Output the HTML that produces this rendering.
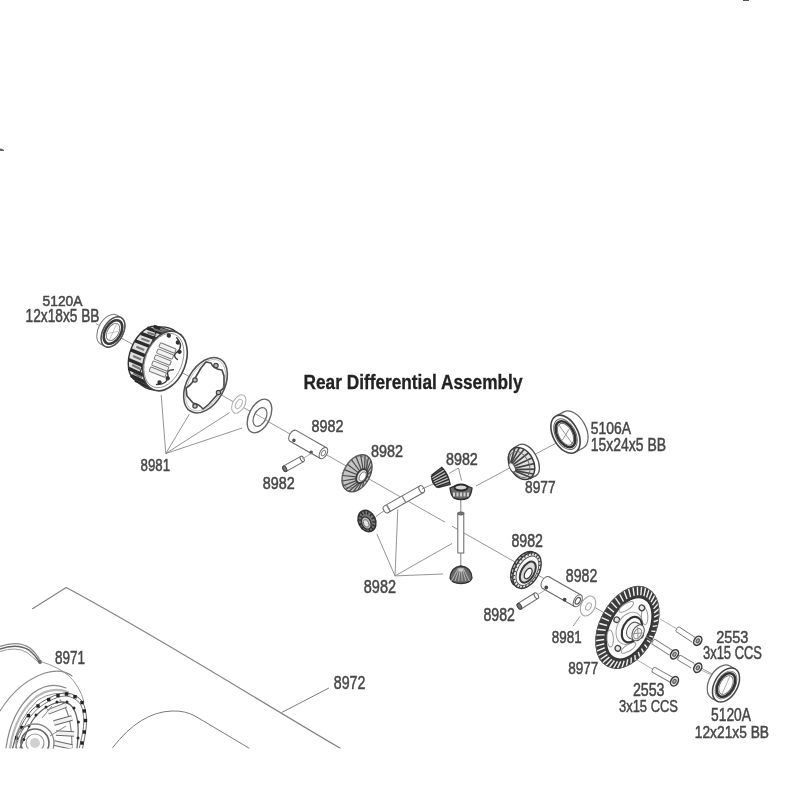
<!DOCTYPE html>
<html><head><meta charset="utf-8"><style>
html,body{margin:0;padding:0;background:#fff;}
svg{display:block;will-change:transform;font-family:"Liberation Sans",sans-serif;}
</style></head><body>
<svg width="800" height="800" viewBox="0 0 800 800">
<rect width="800" height="800" fill="#fff"/>
<line x1="96.0" y1="323.6" x2="445.0" y2="522.2" stroke="#8a8a8a" stroke-width="0.9" />
<line x1="452.0" y1="526.2" x2="712.0" y2="674.1" stroke="#8a8a8a" stroke-width="0.9" />
<line x1="476.0" y1="486.0" x2="560.0" y2="441.0" stroke="#8a8a8a" stroke-width="0.9" />
<g transform="translate(113.0 332.0) rotate(29.6)">
<ellipse cx="-5.0" cy="0.0" rx="10.0" ry="16.5" stroke="#777" stroke-width="1.0" fill="#fff"/>
<rect x="-5.0" y="-16.5" width="5.0" height="33.0" fill="#fff"/>
<line x1="-5.0" y1="-16.5" x2="0.0" y2="-16.5" stroke="#777" stroke-width="1.0"/>
<line x1="-5.0" y1="16.5" x2="0.0" y2="16.5" stroke="#777" stroke-width="1.0"/>
<ellipse cx="0.0" cy="0.0" rx="10.0" ry="16.5" stroke="#777" stroke-width="1.0" fill="#fff"/>
<ellipse cx="0.0" cy="0.0" rx="10.0" ry="16.5" stroke="#555" stroke-width="1.4" fill="none"/>
<ellipse cx="0.0" cy="0.0" rx="7.8" ry="12.8" stroke="#3a3a3a" stroke-width="2.6" fill="none"/>
<ellipse cx="0.0" cy="0.0" rx="5.6" ry="9.4" stroke="#777" stroke-width="0.9" fill="#fff"/>
<path d="M -1,-9 L 1,9 M -4,4 L 4,-3" stroke="#aaa" stroke-width="0.6"/>
</g>
<g transform="translate(165.0 361.0) rotate(22.0)">
<ellipse cx="-19.0" cy="0.0" rx="17.0" ry="29.0" stroke="#333" stroke-width="1.4" fill="#e0e0e0"/>
<path d="M -19,-29 Q -8,-34 0,-31 L 0,31 Q -8,34 -19,29 Z" fill="#e0e0e0" stroke="#333" stroke-width="1.3"/>
<line x1="-20.5" y1="28.9" x2="-1.7" y2="29.9" stroke="#2a2a2a" stroke-width="3.4"/>
<line x1="-19.4" y1="27.2" x2="-9.0" y2="28.1" stroke="#777" stroke-width="2.2"/>
<line x1="-26.2" y1="26.3" x2="-8.2" y2="27.2" stroke="#2a2a2a" stroke-width="3.4"/>
<line x1="-24.8" y1="23.0" x2="-15.2" y2="23.8" stroke="#777" stroke-width="2.2"/>
<line x1="-31.0" y1="20.5" x2="-13.8" y2="21.2" stroke="#2a2a2a" stroke-width="3.4"/>
<line x1="-28.9" y1="16.1" x2="-20.0" y2="16.7" stroke="#777" stroke-width="2.2"/>
<line x1="-34.4" y1="12.3" x2="-17.7" y2="12.7" stroke="#2a2a2a" stroke-width="3.4"/>
<line x1="-31.4" y1="7.3" x2="-22.8" y2="7.5" stroke="#777" stroke-width="2.2"/>
<line x1="-35.9" y1="2.5" x2="-19.4" y2="2.6" stroke="#2a2a2a" stroke-width="3.4"/>
<line x1="-31.9" y1="-2.5" x2="-23.4" y2="-2.5" stroke="#777" stroke-width="2.2"/>
<line x1="-35.4" y1="-7.5" x2="-18.8" y2="-7.8" stroke="#2a2a2a" stroke-width="3.4"/>
<line x1="-30.4" y1="-11.9" x2="-21.7" y2="-12.3" stroke="#777" stroke-width="2.2"/>
<line x1="-32.9" y1="-16.6" x2="-16.0" y2="-17.2" stroke="#2a2a2a" stroke-width="3.4"/>
<line x1="-27.0" y1="-19.9" x2="-17.8" y2="-20.6" stroke="#777" stroke-width="2.2"/>
<line x1="-28.8" y1="-23.8" x2="-11.2" y2="-24.6" stroke="#2a2a2a" stroke-width="3.4"/>
<line x1="-22.2" y1="-25.5" x2="-12.2" y2="-26.4" stroke="#777" stroke-width="2.2"/>
<line x1="-23.4" y1="-28.0" x2="-5.0" y2="-29.0" stroke="#2a2a2a" stroke-width="3.4"/>
<line x1="-16.5" y1="-28.0" x2="-5.7" y2="-29.0" stroke="#777" stroke-width="2.2"/>
<ellipse cx="0.0" cy="0.0" rx="20.5" ry="31.0" stroke="#444" stroke-width="1.6" fill="#fff"/>
<ellipse cx="-1.2" cy="0.0" rx="18.3" ry="28.4" stroke="#888" stroke-width="0.8" fill="none"/>
<rect x="-11" y="-15.3" width="17" height="4.6" rx="1" fill="#f2f2f2" stroke="#7a7a7a" stroke-width="1.0"/>
<rect x="-11" y="-8.8" width="17" height="4.6" rx="1" fill="#f2f2f2" stroke="#7a7a7a" stroke-width="1.0"/>
<rect x="-11" y="-2.3" width="17" height="4.6" rx="1" fill="#f2f2f2" stroke="#7a7a7a" stroke-width="1.0"/>
<rect x="-11" y="4.2" width="17" height="4.6" rx="1" fill="#f2f2f2" stroke="#7a7a7a" stroke-width="1.0"/>
<rect x="-11" y="10.7" width="17" height="4.6" rx="1" fill="#f2f2f2" stroke="#7a7a7a" stroke-width="1.0"/>
<circle cx="5" cy="-22" r="2.2" fill="#333"/>
<circle cx="10" cy="-14" r="2.2" fill="#333"/>
<circle cx="3" cy="22" r="2.2" fill="#333"/>
<circle cx="9" cy="15" r="2.2" fill="#333"/>
<circle cx="-6" cy="-25" r="2.2" fill="#333"/>
<path d="M 2,-26 Q 12,-21 8,-13 Q 4,-8 11,-6" stroke="#3a3a3a" stroke-width="1.4" fill="none" stroke-linejoin="round" stroke-linecap="round" />
<path d="M 1,25 Q 12,20 8,12 Q 4,8 11,5" stroke="#3a3a3a" stroke-width="1.4" fill="none" stroke-linejoin="round" stroke-linecap="round" />
</g>
<ellipse cx="205.5" cy="385.2" rx="18.5" ry="30.0" transform="rotate(29.5 205.5 385.2)" stroke="#555" stroke-width="1.6" fill="#fff"/>
<ellipse cx="205.5" cy="385.2" rx="16.6" ry="28.0" transform="rotate(29.5 205.5 385.2)" stroke="#aaa" stroke-width="0.7" fill="none"/>
<path d="M 211,363 Q 213,369 222,370 L 224,376 L 224,388 Q 220,390 217,395 L 209,404 L 203,409 Q 199,404 193,403 L 187,396 L 186,388 Q 190,386 194,380 L 201,368 L 206,362 Z" stroke="#4a4a4a" stroke-width="1.6" fill="none" stroke-linejoin="round" stroke-linecap="round" />
<circle cx="216" cy="365.5" r="2.2" fill="#bbb" stroke="#444" stroke-width="1.2"/>
<circle cx="218.5" cy="392.5" r="2.2" fill="#bbb" stroke="#444" stroke-width="1.2"/>
<circle cx="195" cy="406" r="2.2" fill="#bbb" stroke="#444" stroke-width="1.2"/>
<circle cx="195" cy="380" r="2.2" fill="#bbb" stroke="#444" stroke-width="1.2"/>
<ellipse cx="238.8" cy="404.0" rx="6.0" ry="10.0" transform="rotate(29.6 238.8 404.0)" stroke="#b0b0b0" stroke-width="1.1" fill="#fff"/>
<ellipse cx="238.8" cy="404.0" rx="2.8" ry="5.0" transform="rotate(29.6 238.8 404.0)" stroke="#b0b0b0" stroke-width="1.0" fill="none"/>
<ellipse cx="259.5" cy="416.0" rx="10.5" ry="18.0" transform="rotate(26.0 259.5 416.0)" stroke="#666" stroke-width="1.4" fill="#fff"/>
<ellipse cx="260.0" cy="417.0" rx="6.0" ry="10.0" transform="rotate(26.0 260.0 417.0)" stroke="#666" stroke-width="1.2" fill="#fff"/>
<line x1="254.0" y1="413.0" x2="268.0" y2="421.0" stroke="#888" stroke-width="0.8" />
<g transform="translate(293.0 435.8) rotate(29.6)">
<ellipse cx="0.0" cy="0.0" rx="3.5" ry="6.2" stroke="#666" stroke-width="1.0" fill="#fff"/>
<rect x="0.0" y="-6.2" width="35.0" height="12.4" fill="#fff"/>
<line x1="0.0" y1="-6.2" x2="35.0" y2="-6.2" stroke="#666" stroke-width="1.0"/>
<line x1="0.0" y1="6.2" x2="35.0" y2="6.2" stroke="#666" stroke-width="1.0"/>
<ellipse cx="35.0" cy="0.0" rx="3.5" ry="6.2" stroke="#666" stroke-width="1.0" fill="#fff"/>
<ellipse cx="35.0" cy="0.0" rx="1.8" ry="3.0" stroke="#777" stroke-width="0.9" fill="none"/>
<circle cx="3" cy="3.5" r="1.8" fill="#555"/>
<circle cx="24" cy="5.4" r="1.8" fill="#555"/>
</g>
<g transform="translate(284.8 468.8) rotate(-29.5)">
<ellipse cx="0.0" cy="0.0" rx="1.7" ry="3.0" stroke="#666" stroke-width="1.0" fill="#fff"/>
<rect x="0.0" y="-3.0" width="20.0" height="6.0" fill="#fff"/>
<line x1="0.0" y1="-3.0" x2="20.0" y2="-3.0" stroke="#666" stroke-width="1.0"/>
<line x1="0.0" y1="3.0" x2="20.0" y2="3.0" stroke="#666" stroke-width="1.0"/>
<ellipse cx="20.0" cy="0.0" rx="1.7" ry="3.0" stroke="#666" stroke-width="1.0" fill="#fff"/>
<ellipse cx="0.0" cy="0.0" rx="1.7" ry="3.0" stroke="#444" stroke-width="1.0" fill="#777"/>
</g>
<line x1="302.0" y1="459.0" x2="313.0" y2="452.5" stroke="#999" stroke-width="0.8" />
<g transform="translate(357.0 473.3) rotate(29.6)">
<ellipse cx="0.0" cy="0.0" rx="13.0" ry="20.0" stroke="#555" stroke-width="1.4" fill="#c4c4c4"/>
<ellipse cx="-2.5" cy="0.0" rx="10.5" ry="17.5" stroke="#777" stroke-width="0.8" fill="none"/>
<line x1="9.9" y1="1.1" x2="12.8" y2="3.1" stroke="#4a4a4a" stroke-width="1.2"/>
<line x1="9.5" y1="3.2" x2="11.6" y2="9.1" stroke="#4a4a4a" stroke-width="1.2"/>
<line x1="8.7" y1="4.9" x2="9.2" y2="14.1" stroke="#4a4a4a" stroke-width="1.2"/>
<line x1="7.5" y1="6.2" x2="5.9" y2="17.8" stroke="#4a4a4a" stroke-width="1.2"/>
<line x1="6.2" y1="6.9" x2="2.0" y2="19.8" stroke="#4a4a4a" stroke-width="1.2"/>
<line x1="4.8" y1="6.9" x2="-2.0" y2="19.8" stroke="#4a4a4a" stroke-width="1.2"/>
<line x1="3.5" y1="6.2" x2="-5.9" y2="17.8" stroke="#4a4a4a" stroke-width="1.2"/>
<line x1="2.3" y1="4.9" x2="-9.2" y2="14.1" stroke="#4a4a4a" stroke-width="1.2"/>
<line x1="1.5" y1="3.2" x2="-11.6" y2="9.1" stroke="#4a4a4a" stroke-width="1.2"/>
<line x1="1.1" y1="1.1" x2="-12.8" y2="3.1" stroke="#4a4a4a" stroke-width="1.2"/>
<line x1="1.1" y1="-1.1" x2="-12.8" y2="-3.1" stroke="#4a4a4a" stroke-width="1.2"/>
<line x1="1.5" y1="-3.2" x2="-11.6" y2="-9.1" stroke="#4a4a4a" stroke-width="1.2"/>
<line x1="2.3" y1="-4.9" x2="-9.2" y2="-14.1" stroke="#4a4a4a" stroke-width="1.2"/>
<line x1="3.5" y1="-6.2" x2="-5.9" y2="-17.8" stroke="#4a4a4a" stroke-width="1.2"/>
<line x1="4.8" y1="-6.9" x2="-2.0" y2="-19.8" stroke="#4a4a4a" stroke-width="1.2"/>
<line x1="6.2" y1="-6.9" x2="2.0" y2="-19.8" stroke="#4a4a4a" stroke-width="1.2"/>
<line x1="7.5" y1="-6.2" x2="5.9" y2="-17.8" stroke="#4a4a4a" stroke-width="1.2"/>
<line x1="8.7" y1="-4.9" x2="9.2" y2="-14.1" stroke="#4a4a4a" stroke-width="1.2"/>
<line x1="9.5" y1="-3.2" x2="11.6" y2="-9.1" stroke="#4a4a4a" stroke-width="1.2"/>
<line x1="9.9" y1="-1.1" x2="12.8" y2="-3.1" stroke="#4a4a4a" stroke-width="1.2"/>
<ellipse cx="5.5" cy="0.0" rx="4.8" ry="7.5" stroke="#3a3a3a" stroke-width="1.8" fill="#e8e8e8"/>
<ellipse cx="6.5" cy="0.0" rx="3.0" ry="5.0" stroke="#666" stroke-width="0.8" fill="#fff"/>
</g>
<line x1="376.0" y1="516.4" x2="386.0" y2="509.4" stroke="#777" stroke-width="0.8" />
<g transform="translate(386.0 509.4) rotate(-29.5)">
<ellipse cx="0.0" cy="0.0" rx="2.4" ry="3.8" stroke="#666" stroke-width="1.0" fill="#fff"/>
<rect x="0.0" y="-3.8" width="41.0" height="7.6" fill="#fff"/>
<line x1="0.0" y1="-3.8" x2="41.0" y2="-3.8" stroke="#666" stroke-width="1.0"/>
<line x1="0.0" y1="3.8" x2="41.0" y2="3.8" stroke="#666" stroke-width="1.0"/>
<ellipse cx="41.0" cy="0.0" rx="2.4" ry="3.8" stroke="#666" stroke-width="1.0" fill="#fff"/>
<rect x="2" y="-3.4" width="1.5" height="6.8" fill="#777"/>
<rect x="20" y="-3.4" width="1.2" height="6.8" fill="#777"/>
</g>
<line x1="422.0" y1="489.0" x2="433.0" y2="484.0" stroke="#777" stroke-width="0.8" />
<line x1="460.8" y1="499.0" x2="460.8" y2="513.0" stroke="#777" stroke-width="0.9" />
<rect x="457.8" y="513" width="6" height="40" fill="#fff" stroke="#666" stroke-width="1"/>
<ellipse cx="460.8" cy="513.5" rx="3" ry="1.6" fill="#777" stroke="#555" stroke-width="0.8"/>
<line x1="460.8" y1="553.0" x2="460.8" y2="567.0" stroke="#777" stroke-width="0.9" />
<g transform="translate(367.0 521.0) rotate(-25.0)">
<ellipse cx="0.0" cy="0.0" rx="8.5" ry="11.0" stroke="#333" stroke-width="1.5" fill="#777"/>
<line x1="5.0" y1="0.0" x2="8.5" y2="0.0" stroke="#2a2a2a" stroke-width="1.3"/>
<line x1="4.5" y1="3.0" x2="7.7" y2="4.8" stroke="#2a2a2a" stroke-width="1.3"/>
<line x1="3.1" y1="5.5" x2="5.3" y2="8.6" stroke="#2a2a2a" stroke-width="1.3"/>
<line x1="1.1" y1="6.8" x2="1.9" y2="10.7" stroke="#2a2a2a" stroke-width="1.3"/>
<line x1="-1.1" y1="6.8" x2="-1.9" y2="10.7" stroke="#2a2a2a" stroke-width="1.3"/>
<line x1="-3.1" y1="5.5" x2="-5.3" y2="8.6" stroke="#2a2a2a" stroke-width="1.3"/>
<line x1="-4.5" y1="3.0" x2="-7.7" y2="4.8" stroke="#2a2a2a" stroke-width="1.3"/>
<line x1="-5.0" y1="0.0" x2="-8.5" y2="0.0" stroke="#2a2a2a" stroke-width="1.3"/>
<line x1="-4.5" y1="-3.0" x2="-7.7" y2="-4.8" stroke="#2a2a2a" stroke-width="1.3"/>
<line x1="-3.1" y1="-5.5" x2="-5.3" y2="-8.6" stroke="#2a2a2a" stroke-width="1.3"/>
<line x1="-1.1" y1="-6.8" x2="-1.9" y2="-10.7" stroke="#2a2a2a" stroke-width="1.3"/>
<line x1="1.1" y1="-6.8" x2="1.9" y2="-10.7" stroke="#2a2a2a" stroke-width="1.3"/>
<line x1="3.1" y1="-5.5" x2="5.3" y2="-8.6" stroke="#2a2a2a" stroke-width="1.3"/>
<line x1="4.5" y1="-3.0" x2="7.7" y2="-4.8" stroke="#2a2a2a" stroke-width="1.3"/>
<ellipse cx="-1.5" cy="1.5" rx="4.5" ry="6.5" stroke="#333" stroke-width="1.3" fill="#bdbdbd"/>
<ellipse cx="-1.8" cy="1.8" rx="2.5" ry="4.0" stroke="#666" stroke-width="0.8" fill="#e4e4e4"/>
</g>
<g transform="translate(440.5 478.5) rotate(64.0)">
<path d="M -9.5,-6 Q 0,-9 9.5,-6 L 7,6 Q 0,11 -7,6 Z" fill="#7c7c7c" stroke="#333" stroke-width="1.4"/>
<line x1="-7.5" y1="-7" x2="-5.6" y2="8" stroke="#2a2a2a" stroke-width="1.3"/>
<line x1="-4.5" y1="-7" x2="-3.4" y2="8" stroke="#2a2a2a" stroke-width="1.3"/>
<line x1="-1.5" y1="-7" x2="-1.1" y2="8" stroke="#2a2a2a" stroke-width="1.3"/>
<line x1="1.5" y1="-7" x2="1.1" y2="8" stroke="#2a2a2a" stroke-width="1.3"/>
<line x1="4.5" y1="-7" x2="3.4" y2="8" stroke="#2a2a2a" stroke-width="1.3"/>
<line x1="7.5" y1="-7" x2="5.6" y2="8" stroke="#2a2a2a" stroke-width="1.3"/>
<line x1="-6.0" y1="-6.5" x2="-4.5" y2="7" stroke="#c8c8c8" stroke-width="0.9"/>
<line x1="-3.0" y1="-6.5" x2="-2.2" y2="7" stroke="#c8c8c8" stroke-width="0.9"/>
<line x1="0.0" y1="-6.5" x2="0.0" y2="7" stroke="#c8c8c8" stroke-width="0.9"/>
<line x1="3.0" y1="-6.5" x2="2.2" y2="7" stroke="#c8c8c8" stroke-width="0.9"/>
<line x1="6.0" y1="-6.5" x2="4.5" y2="7" stroke="#c8c8c8" stroke-width="0.9"/>
</g>
<g transform="translate(461.0 491.0) rotate(0.0)">
<path d="M -11,-3 Q -10,5 -7,7 Q 0,10 7,7 Q 10,5 11,-3 Q 0,-9 -11,-3 Z" fill="#6a6a6a" stroke="#333" stroke-width="1.4"/>
<ellipse cx="0.0" cy="-3.5" rx="6.5" ry="3.0" stroke="#2a2a2a" stroke-width="1.8" fill="#d8d8d8"/>
<rect x="-8.0" y="1.5" width="2" height="4" fill="#cfcfcf"/>
<rect x="-4.5" y="1.5" width="2" height="4" fill="#cfcfcf"/>
<rect x="-1.0" y="1.5" width="2" height="4" fill="#cfcfcf"/>
<rect x="2.5" y="1.5" width="2" height="4" fill="#cfcfcf"/>
<rect x="6.0" y="1.5" width="2" height="4" fill="#cfcfcf"/>
</g>
<g transform="translate(461.0 575.0) rotate(0.0)">
<path d="M -11,3 Q -10,-8 0,-9 Q 10,-8 11,3 Q 9,8.5 0,8.5 Q -9,8.5 -11,3 Z" fill="#6a6a6a" stroke="#333" stroke-width="1.3"/>
<line x1="-2.4" y1="-7" x2="-9.6" y2="6" stroke="#bdbdbd" stroke-width="0.9"/>
<line x1="-1.5" y1="-7" x2="-6.0" y2="6" stroke="#bdbdbd" stroke-width="0.9"/>
<line x1="-0.6" y1="-7" x2="-2.4" y2="6" stroke="#bdbdbd" stroke-width="0.9"/>
<line x1="0.3" y1="-7" x2="1.2" y2="6" stroke="#bdbdbd" stroke-width="0.9"/>
<line x1="1.2" y1="-7" x2="4.8" y2="6" stroke="#bdbdbd" stroke-width="0.9"/>
<line x1="2.1" y1="-7" x2="8.4" y2="6" stroke="#bdbdbd" stroke-width="0.9"/>
<ellipse cx="0.0" cy="-5.0" rx="2.5" ry="1.5" stroke="none" stroke-width="0" fill="#ccc"/>
</g>
<line x1="395.0" y1="575.9" x2="376.8" y2="533.9" stroke="#888" stroke-width="0.9" />
<line x1="395.0" y1="575.9" x2="397.8" y2="509.4" stroke="#888" stroke-width="0.9" />
<line x1="395.0" y1="575.9" x2="452.0" y2="543.5" stroke="#888" stroke-width="0.9" />
<line x1="395.0" y1="575.9" x2="443.0" y2="574.0" stroke="#888" stroke-width="0.9" />
<polyline points="449.0,473.5 458.5,468.0 461.5,480.5" stroke="#888" stroke-width="0.9" fill="none" stroke-linejoin="round"/>
<line x1="165.8" y1="453.5" x2="161.2" y2="395.0" stroke="#888" stroke-width="0.9" />
<line x1="165.8" y1="453.5" x2="189.3" y2="414.2" stroke="#888" stroke-width="0.9" />
<line x1="165.8" y1="453.5" x2="229.5" y2="412.7" stroke="#888" stroke-width="0.9" />
<line x1="165.8" y1="453.5" x2="242.2" y2="428.0" stroke="#888" stroke-width="0.9" />
<g transform="translate(565.5 434.2) rotate(-28.0)">
<ellipse cx="9.0" cy="0.0" rx="12.5" ry="20.5" stroke="#666" stroke-width="1.2" fill="#fff"/>
<rect x="0.0" y="-20.5" width="9.0" height="41.0" fill="#fff"/>
<line x1="9.0" y1="-20.5" x2="0.0" y2="-20.5" stroke="#666" stroke-width="1.2"/>
<line x1="9.0" y1="20.5" x2="0.0" y2="20.5" stroke="#666" stroke-width="1.2"/>
<ellipse cx="0.0" cy="0.0" rx="12.5" ry="20.5" stroke="#444" stroke-width="1.6" fill="#fff"/>
<ellipse cx="0.0" cy="0.0" rx="10.0" ry="16.5" stroke="#666" stroke-width="1.0" fill="none"/>
<ellipse cx="0.0" cy="0.0" rx="8.3" ry="14.0" stroke="#333" stroke-width="2.6" fill="none"/>
<ellipse cx="0.0" cy="0.0" rx="6.8" ry="11.8" stroke="#666" stroke-width="0.9" fill="#fff"/>
<path d="M -1.5,-11 L 1.5,11 M -6,4 L 6,-3" stroke="#888" stroke-width="0.8"/>
</g>
<g transform="translate(521.5 463.5) rotate(-28.0)">
<ellipse cx="7.0" cy="0.0" rx="9.5" ry="17.5" stroke="#555" stroke-width="1.3" fill="#fff"/>
<rect x="0" y="-17.5" width="7" height="35" fill="#fff"/>
<line x1="0" y1="-17.5" x2="7" y2="-17.5" stroke="#555" stroke-width="1.3"/>
<line x1="0" y1="17.5" x2="7" y2="17.5" stroke="#555" stroke-width="1.3"/>
<clipPath id="cpp"><ellipse cx="0" cy="0" rx="12" ry="17"/></clipPath>
<ellipse cx="0.0" cy="0.0" rx="12.0" ry="17.0" stroke="#3a3a3a" stroke-width="1.5" fill="#e2e2e2"/>
<g clip-path="url(#cpp)">
<line x1="-9" y1="-5.9" x2="2.3" y2="-17.7" stroke="#444" stroke-width="1.7"/>
<line x1="-9" y1="-5.3" x2="6.5" y2="-15.6" stroke="#444" stroke-width="1.7"/>
<line x1="-9" y1="-4.2" x2="10.0" y2="-11.6" stroke="#444" stroke-width="1.7"/>
<line x1="-9" y1="-2.7" x2="12.2" y2="-6.2" stroke="#444" stroke-width="1.7"/>
<line x1="-9" y1="-1.0" x2="13.0" y2="0.0" stroke="#444" stroke-width="1.7"/>
<line x1="-9" y1="0.7" x2="12.2" y2="6.2" stroke="#444" stroke-width="1.7"/>
<line x1="-9" y1="2.2" x2="10.0" y2="11.6" stroke="#444" stroke-width="1.7"/>
<line x1="-9" y1="3.3" x2="6.5" y2="15.6" stroke="#444" stroke-width="1.7"/>
<line x1="-9" y1="3.9" x2="2.3" y2="17.7" stroke="#444" stroke-width="1.7"/>
</g>
<ellipse cx="-2.0" cy="0.0" rx="9.0" ry="14.0" stroke="#666" stroke-width="0.9" fill="none"/>
<ellipse cx="-10.0" cy="-1.0" rx="2.5" ry="5.0" stroke="#555" stroke-width="1.0" fill="#f4f4f4"/>
</g>
<g transform="translate(527.0 570.5) rotate(29.6)">
<ellipse cx="-3.0" cy="0.0" rx="11.5" ry="19.0" stroke="#3a3a3a" stroke-width="1.3" fill="#c8c8c8"/>
<rect x="-3" y="-19" width="3" height="38" fill="#c8c8c8"/>
<line x1="-3.0" y1="19.0" x2="0.0" y2="19.5" stroke="#333" stroke-width="1.4"/>
<line x1="-6.0" y1="18.4" x2="-3.1" y2="18.8" stroke="#333" stroke-width="1.4"/>
<line x1="-8.7" y1="16.5" x2="-6.0" y2="16.9" stroke="#333" stroke-width="1.4"/>
<line x1="-11.1" y1="13.4" x2="-8.5" y2="13.8" stroke="#333" stroke-width="1.4"/>
<line x1="-13.0" y1="9.5" x2="-10.4" y2="9.7" stroke="#333" stroke-width="1.4"/>
<line x1="-14.1" y1="4.9" x2="-11.6" y2="5.0" stroke="#333" stroke-width="1.4"/>
<line x1="-14.5" y1="0.0" x2="-12.0" y2="0.0" stroke="#333" stroke-width="1.4"/>
<line x1="-14.1" y1="-4.9" x2="-11.6" y2="-5.0" stroke="#333" stroke-width="1.4"/>
<line x1="-13.0" y1="-9.5" x2="-10.4" y2="-9.7" stroke="#333" stroke-width="1.4"/>
<line x1="-11.1" y1="-13.4" x2="-8.5" y2="-13.8" stroke="#333" stroke-width="1.4"/>
<line x1="-8.8" y1="-16.5" x2="-6.0" y2="-16.9" stroke="#333" stroke-width="1.4"/>
<line x1="-6.0" y1="-18.4" x2="-3.1" y2="-18.8" stroke="#333" stroke-width="1.4"/>
<line x1="-3.0" y1="-19.0" x2="-0.0" y2="-19.5" stroke="#333" stroke-width="1.4"/>
<ellipse cx="0.0" cy="0.0" rx="12.0" ry="19.5" stroke="#3a3a3a" stroke-width="1.4" fill="#eeeeee"/>
<line x1="9.9" y1="2.2" x2="11.9" y2="2.5" stroke="#444" stroke-width="1.2"/>
<line x1="9.2" y1="6.3" x2="11.1" y2="7.5" stroke="#444" stroke-width="1.2"/>
<line x1="7.9" y1="10.0" x2="9.5" y2="11.9" stroke="#444" stroke-width="1.2"/>
<line x1="6.1" y1="13.1" x2="7.3" y2="15.5" stroke="#444" stroke-width="1.2"/>
<line x1="3.8" y1="15.2" x2="4.6" y2="18.0" stroke="#444" stroke-width="1.2"/>
<line x1="1.3" y1="16.4" x2="1.6" y2="19.3" stroke="#444" stroke-width="1.2"/>
<line x1="-1.3" y1="16.4" x2="-1.6" y2="19.3" stroke="#444" stroke-width="1.2"/>
<line x1="-3.8" y1="15.2" x2="-4.6" y2="18.0" stroke="#444" stroke-width="1.2"/>
<line x1="-6.1" y1="13.1" x2="-7.3" y2="15.5" stroke="#444" stroke-width="1.2"/>
<line x1="-7.9" y1="10.0" x2="-9.5" y2="11.9" stroke="#444" stroke-width="1.2"/>
<line x1="-9.2" y1="6.3" x2="-11.1" y2="7.5" stroke="#444" stroke-width="1.2"/>
<line x1="-9.9" y1="2.2" x2="-11.9" y2="2.5" stroke="#444" stroke-width="1.2"/>
<line x1="-9.9" y1="-2.2" x2="-11.9" y2="-2.5" stroke="#444" stroke-width="1.2"/>
<line x1="-9.2" y1="-6.3" x2="-11.1" y2="-7.5" stroke="#444" stroke-width="1.2"/>
<line x1="-7.9" y1="-10.0" x2="-9.5" y2="-11.9" stroke="#444" stroke-width="1.2"/>
<line x1="-6.1" y1="-13.1" x2="-7.3" y2="-15.5" stroke="#444" stroke-width="1.2"/>
<line x1="-3.8" y1="-15.2" x2="-4.6" y2="-18.0" stroke="#444" stroke-width="1.2"/>
<line x1="-1.3" y1="-16.4" x2="-1.6" y2="-19.3" stroke="#444" stroke-width="1.2"/>
<line x1="1.3" y1="-16.4" x2="1.6" y2="-19.3" stroke="#444" stroke-width="1.2"/>
<line x1="3.8" y1="-15.2" x2="4.6" y2="-18.0" stroke="#444" stroke-width="1.2"/>
<line x1="6.1" y1="-13.1" x2="7.3" y2="-15.5" stroke="#444" stroke-width="1.2"/>
<line x1="7.9" y1="-10.0" x2="9.5" y2="-11.9" stroke="#444" stroke-width="1.2"/>
<line x1="9.2" y1="-6.3" x2="11.1" y2="-7.5" stroke="#444" stroke-width="1.2"/>
<line x1="9.9" y1="-2.2" x2="11.9" y2="-2.5" stroke="#444" stroke-width="1.2"/>
<ellipse cx="0.5" cy="0.0" rx="9.5" ry="16.0" stroke="#555" stroke-width="1.0" fill="#fafafa"/>
<ellipse cx="1.5" cy="1.0" rx="6.5" ry="11.5" stroke="#3a3a3a" stroke-width="2.0" fill="#dcdcdc"/>
<ellipse cx="2.5" cy="2.0" rx="3.2" ry="5.8" stroke="#333" stroke-width="1.2" fill="#fff"/>
</g>
<g transform="translate(545.6 582.5) rotate(29.6)">
<ellipse cx="0.0" cy="0.0" rx="3.8" ry="6.6" stroke="#666" stroke-width="1.0" fill="#fff"/>
<rect x="0.0" y="-6.6" width="37.0" height="13.2" fill="#fff"/>
<line x1="0.0" y1="-6.6" x2="37.0" y2="-6.6" stroke="#666" stroke-width="1.0"/>
<line x1="0.0" y1="6.6" x2="37.0" y2="6.6" stroke="#666" stroke-width="1.0"/>
<ellipse cx="37.0" cy="0.0" rx="3.8" ry="6.6" stroke="#666" stroke-width="1.0" fill="#fff"/>
<ellipse cx="37.0" cy="0.0" rx="2.2" ry="3.6" stroke="#555" stroke-width="1.2" fill="none"/>
<circle cx="3" cy="4" r="1.9" fill="#444"/>
<circle cx="25" cy="5.5" r="1.9" fill="#444"/>
</g>
<g transform="translate(519.4 606.3) rotate(-32.0)">
<ellipse cx="0.0" cy="0.0" rx="1.8" ry="3.2" stroke="#666" stroke-width="1.0" fill="#fff"/>
<rect x="0.0" y="-3.2" width="20.0" height="6.4" fill="#fff"/>
<line x1="0.0" y1="-3.2" x2="20.0" y2="-3.2" stroke="#666" stroke-width="1.0"/>
<line x1="0.0" y1="3.2" x2="20.0" y2="3.2" stroke="#666" stroke-width="1.0"/>
<ellipse cx="20.0" cy="0.0" rx="1.8" ry="3.2" stroke="#666" stroke-width="1.0" fill="#fff"/>
<ellipse cx="0.0" cy="0.0" rx="1.8" ry="3.2" stroke="#444" stroke-width="1.0" fill="#777"/>
</g>
<line x1="537.0" y1="595.0" x2="547.0" y2="589.0" stroke="#999" stroke-width="0.8" />
<ellipse cx="588.0" cy="606.0" rx="7.0" ry="10.5" transform="rotate(26.0 588.0 606.0)" stroke="#a8a8a8" stroke-width="1.1" fill="#fff"/>
<ellipse cx="588.5" cy="606.5" rx="2.5" ry="4.0" transform="rotate(26.0 588.5 606.5)" stroke="#a8a8a8" stroke-width="1.0" fill="none"/>
<line x1="573.2" y1="626.0" x2="580.0" y2="616.4" stroke="#888" stroke-width="0.9" />
<g transform="translate(627.4 627.4) rotate(27.0)">
<ellipse cx="0.0" cy="0.0" rx="27.5" ry="43.5" stroke="#333" stroke-width="1.0" fill="#3c3c3c"/>
<line x1="23.4" y1="2.5" x2="28.0" y2="3.1" stroke="#f2f2f2" stroke-width="1.4"/>
<line x1="23.0" y1="7.5" x2="27.5" y2="9.4" stroke="#f2f2f2" stroke-width="1.4"/>
<line x1="22.1" y1="12.4" x2="26.3" y2="15.4" stroke="#f2f2f2" stroke-width="1.4"/>
<line x1="20.9" y1="17.0" x2="24.7" y2="21.1" stroke="#f2f2f2" stroke-width="1.4"/>
<line x1="19.2" y1="21.3" x2="22.5" y2="26.4" stroke="#f2f2f2" stroke-width="1.4"/>
<line x1="17.2" y1="25.1" x2="19.9" y2="31.2" stroke="#f2f2f2" stroke-width="1.4"/>
<line x1="14.9" y1="28.4" x2="16.8" y2="35.3" stroke="#f2f2f2" stroke-width="1.4"/>
<line x1="12.3" y1="31.2" x2="13.5" y2="38.7" stroke="#f2f2f2" stroke-width="1.4"/>
<line x1="9.5" y1="33.3" x2="9.8" y2="41.3" stroke="#f2f2f2" stroke-width="1.4"/>
<line x1="6.6" y1="34.7" x2="6.0" y2="43.1" stroke="#f2f2f2" stroke-width="1.4"/>
<line x1="3.5" y1="35.4" x2="2.0" y2="44.0" stroke="#f2f2f2" stroke-width="1.4"/>
<line x1="0.5" y1="35.4" x2="-2.0" y2="44.0" stroke="#f2f2f2" stroke-width="1.4"/>
<line x1="-2.6" y1="34.7" x2="-6.0" y2="43.1" stroke="#f2f2f2" stroke-width="1.4"/>
<line x1="-5.5" y1="33.3" x2="-9.8" y2="41.3" stroke="#f2f2f2" stroke-width="1.4"/>
<line x1="-8.3" y1="31.2" x2="-13.5" y2="38.7" stroke="#f2f2f2" stroke-width="1.4"/>
<line x1="-10.9" y1="28.4" x2="-16.8" y2="35.3" stroke="#f2f2f2" stroke-width="1.4"/>
<line x1="-13.2" y1="25.1" x2="-19.9" y2="31.2" stroke="#f2f2f2" stroke-width="1.4"/>
<line x1="-15.2" y1="21.3" x2="-22.5" y2="26.4" stroke="#f2f2f2" stroke-width="1.4"/>
<line x1="-16.9" y1="17.0" x2="-24.7" y2="21.1" stroke="#f2f2f2" stroke-width="1.4"/>
<line x1="-18.1" y1="12.4" x2="-26.3" y2="15.4" stroke="#f2f2f2" stroke-width="1.4"/>
<line x1="-19.0" y1="7.5" x2="-27.5" y2="9.4" stroke="#f2f2f2" stroke-width="1.4"/>
<line x1="-19.4" y1="2.5" x2="-28.0" y2="3.1" stroke="#f2f2f2" stroke-width="1.4"/>
<line x1="-19.4" y1="-2.5" x2="-28.0" y2="-3.1" stroke="#f2f2f2" stroke-width="1.4"/>
<line x1="-19.0" y1="-7.5" x2="-27.5" y2="-9.4" stroke="#f2f2f2" stroke-width="1.4"/>
<line x1="-18.1" y1="-12.4" x2="-26.3" y2="-15.4" stroke="#f2f2f2" stroke-width="1.4"/>
<line x1="-16.9" y1="-17.0" x2="-24.7" y2="-21.1" stroke="#f2f2f2" stroke-width="1.4"/>
<line x1="-15.2" y1="-21.3" x2="-22.5" y2="-26.4" stroke="#f2f2f2" stroke-width="1.4"/>
<line x1="-13.2" y1="-25.1" x2="-19.9" y2="-31.2" stroke="#f2f2f2" stroke-width="1.4"/>
<line x1="-10.9" y1="-28.4" x2="-16.8" y2="-35.3" stroke="#f2f2f2" stroke-width="1.4"/>
<line x1="-8.3" y1="-31.2" x2="-13.5" y2="-38.7" stroke="#f2f2f2" stroke-width="1.4"/>
<line x1="-5.5" y1="-33.3" x2="-9.8" y2="-41.3" stroke="#f2f2f2" stroke-width="1.4"/>
<line x1="-2.6" y1="-34.7" x2="-6.0" y2="-43.1" stroke="#f2f2f2" stroke-width="1.4"/>
<line x1="0.5" y1="-35.4" x2="-2.0" y2="-44.0" stroke="#f2f2f2" stroke-width="1.4"/>
<line x1="3.5" y1="-35.4" x2="2.0" y2="-44.0" stroke="#f2f2f2" stroke-width="1.4"/>
<line x1="6.6" y1="-34.7" x2="6.0" y2="-43.1" stroke="#f2f2f2" stroke-width="1.4"/>
<line x1="9.5" y1="-33.3" x2="9.8" y2="-41.3" stroke="#f2f2f2" stroke-width="1.4"/>
<line x1="12.3" y1="-31.2" x2="13.5" y2="-38.7" stroke="#f2f2f2" stroke-width="1.4"/>
<line x1="14.9" y1="-28.4" x2="16.8" y2="-35.3" stroke="#f2f2f2" stroke-width="1.4"/>
<line x1="17.2" y1="-25.1" x2="19.9" y2="-31.2" stroke="#f2f2f2" stroke-width="1.4"/>
<line x1="19.2" y1="-21.3" x2="22.5" y2="-26.4" stroke="#f2f2f2" stroke-width="1.4"/>
<line x1="20.9" y1="-17.0" x2="24.7" y2="-21.1" stroke="#f2f2f2" stroke-width="1.4"/>
<line x1="22.1" y1="-12.4" x2="26.3" y2="-15.4" stroke="#f2f2f2" stroke-width="1.4"/>
<line x1="23.0" y1="-7.5" x2="27.5" y2="-9.4" stroke="#f2f2f2" stroke-width="1.4"/>
<line x1="23.4" y1="-2.5" x2="28.0" y2="-3.1" stroke="#f2f2f2" stroke-width="1.4"/>
<ellipse cx="0.0" cy="0.0" rx="27.8" ry="43.8" stroke="#555" stroke-width="0.9" fill="none"/>
<ellipse cx="2.0" cy="0.0" rx="19.5" ry="33.0" stroke="#333" stroke-width="1.4" fill="#fafafa"/>
<ellipse cx="-10.3" cy="-17.7" rx="8.5" ry="3.2" transform="rotate(-59.9 -10.3 -17.7)" fill="#fff" stroke="#999" stroke-width="1.0"/>
<ellipse cx="10.3" cy="-17.7" rx="8.5" ry="3.2" transform="rotate(59.9 10.3 -17.7)" fill="#fff" stroke="#999" stroke-width="1.0"/>
<ellipse cx="10.3" cy="17.7" rx="8.5" ry="3.2" transform="rotate(120.1 10.3 17.7)" fill="#fff" stroke="#999" stroke-width="1.0"/>
<ellipse cx="-10.3" cy="17.7" rx="8.5" ry="3.2" transform="rotate(-120.1 -10.3 17.7)" fill="#fff" stroke="#999" stroke-width="1.0"/>
<circle cx="-13" cy="-2" r="2.8" fill="#e8e8e8" stroke="#444" stroke-width="1.3"/>
<circle cx="4" cy="-24" r="2.8" fill="#e8e8e8" stroke="#444" stroke-width="1.3"/>
<circle cx="1" cy="23" r="2.8" fill="#e8e8e8" stroke="#444" stroke-width="1.3"/>
<circle cx="15" cy="1" r="2.8" fill="#e8e8e8" stroke="#444" stroke-width="1.3"/>
<ellipse cx="2.0" cy="0.0" rx="12.0" ry="17.0" stroke="#999" stroke-width="0.9" fill="none"/>
<ellipse cx="5.0" cy="0.0" rx="9.0" ry="13.5" stroke="#333" stroke-width="2.2" fill="#fff"/>
<ellipse cx="6.0" cy="0.0" rx="5.5" ry="8.5" stroke="#555" stroke-width="1.0" fill="#f4f4f4"/>
<rect x="6.0" y="-8.5" width="6.0" height="17.0" fill="#f4f4f4"/>
<line x1="6.0" y1="-8.5" x2="12.0" y2="-8.5" stroke="#555" stroke-width="1.0"/>
<line x1="6.0" y1="8.5" x2="12.0" y2="8.5" stroke="#555" stroke-width="1.0"/>
<ellipse cx="12.0" cy="0.0" rx="5.5" ry="8.5" stroke="#555" stroke-width="1.0" fill="#f4f4f4"/>
<ellipse cx="12.0" cy="1.0" rx="3.5" ry="5.5" stroke="#777" stroke-width="0.9" fill="none"/>
<path d="M 9,-5 L 15,6 M 8,3 L 16,-2" stroke="#888" stroke-width="0.8"/>
</g>
<line x1="660.0" y1="619.0" x2="678.0" y2="629.5" stroke="#999" stroke-width="0.8" />
<g transform="translate(678.0 629.5) rotate(33.3)">
<ellipse cx="0.0" cy="0.0" rx="1.6" ry="2.8" stroke="#777" stroke-width="0.9" fill="#fff"/>
<rect x="0.0" y="-2.8" width="19.1" height="5.6" fill="#fff"/>
<line x1="0.0" y1="-2.8" x2="19.1" y2="-2.8" stroke="#777" stroke-width="0.9"/>
<line x1="0.0" y1="2.8" x2="19.1" y2="2.8" stroke="#777" stroke-width="0.9"/>
</g>
<ellipse cx="697.8" cy="640.8" rx="3.6" ry="5.0" transform="rotate(33.3 697.8 640.8)" stroke="#3a3a3a" stroke-width="1.5" fill="#e4e4e4"/>
<ellipse cx="697.8" cy="640.8" rx="1.5" ry="2.2" transform="rotate(33.3 697.8 640.8)" stroke="#555" stroke-width="1.0" fill="#aaa"/>
<line x1="646.0" y1="637.0" x2="654.0" y2="642.0" stroke="#999" stroke-width="0.8" />
<g transform="translate(654.0 642.0) rotate(32.2)">
<ellipse cx="0.0" cy="0.0" rx="1.6" ry="2.8" stroke="#777" stroke-width="0.9" fill="#fff"/>
<rect x="0.0" y="-2.8" width="20.1" height="5.6" fill="#fff"/>
<line x1="0.0" y1="-2.8" x2="20.1" y2="-2.8" stroke="#777" stroke-width="0.9"/>
<line x1="0.0" y1="2.8" x2="20.1" y2="2.8" stroke="#777" stroke-width="0.9"/>
</g>
<ellipse cx="674.5" cy="654.3" rx="3.6" ry="5.0" transform="rotate(32.2 674.5 654.3)" stroke="#3a3a3a" stroke-width="1.5" fill="#e4e4e4"/>
<ellipse cx="674.5" cy="654.3" rx="1.5" ry="2.2" transform="rotate(32.2 674.5 654.3)" stroke="#555" stroke-width="1.0" fill="#aaa"/>
<line x1="677.0" y1="657.0" x2="679.8" y2="658.0" stroke="#999" stroke-width="0.8" />
<g transform="translate(679.8 658.0) rotate(30.6)">
<ellipse cx="0.0" cy="0.0" rx="1.6" ry="2.8" stroke="#777" stroke-width="0.9" fill="#fff"/>
<rect x="0.0" y="-2.8" width="14.7" height="5.6" fill="#fff"/>
<line x1="0.0" y1="-2.8" x2="14.7" y2="-2.8" stroke="#777" stroke-width="0.9"/>
<line x1="0.0" y1="2.8" x2="14.7" y2="2.8" stroke="#777" stroke-width="0.9"/>
</g>
<ellipse cx="697.8" cy="667.8" rx="3.6" ry="5.0" transform="rotate(30.6 697.8 667.8)" stroke="#3a3a3a" stroke-width="1.5" fill="#e4e4e4"/>
<ellipse cx="697.8" cy="667.8" rx="1.5" ry="2.2" transform="rotate(30.6 697.8 667.8)" stroke="#555" stroke-width="1.0" fill="#aaa"/>
<line x1="701.0" y1="670.0" x2="710.5" y2="674.5" stroke="#999" stroke-width="0.8" />
<line x1="636.0" y1="659.3" x2="654.0" y2="670.0" stroke="#999" stroke-width="0.8" />
<g transform="translate(654.0 670.0) rotate(29.2)">
<ellipse cx="0.0" cy="0.0" rx="1.6" ry="2.8" stroke="#777" stroke-width="0.9" fill="#fff"/>
<rect x="0.0" y="-2.8" width="20.1" height="5.6" fill="#fff"/>
<line x1="0.0" y1="-2.8" x2="20.1" y2="-2.8" stroke="#777" stroke-width="0.9"/>
<line x1="0.0" y1="2.8" x2="20.1" y2="2.8" stroke="#777" stroke-width="0.9"/>
</g>
<ellipse cx="674.5" cy="681.3" rx="3.6" ry="5.0" transform="rotate(29.2 674.5 681.3)" stroke="#3a3a3a" stroke-width="1.5" fill="#e4e4e4"/>
<ellipse cx="674.5" cy="681.3" rx="1.5" ry="2.2" transform="rotate(29.2 674.5 681.3)" stroke="#555" stroke-width="1.0" fill="#aaa"/>
<g transform="translate(726.0 685.0) rotate(29.6)">
<ellipse cx="-6.0" cy="0.0" rx="11.5" ry="18.5" stroke="#666" stroke-width="1.2" fill="#fff"/>
<rect x="-6.0" y="-18.5" width="6.0" height="37.0" fill="#fff"/>
<line x1="-6.0" y1="-18.5" x2="0.0" y2="-18.5" stroke="#666" stroke-width="1.2"/>
<line x1="-6.0" y1="18.5" x2="0.0" y2="18.5" stroke="#666" stroke-width="1.2"/>
<ellipse cx="0.0" cy="0.0" rx="11.5" ry="18.5" stroke="#444" stroke-width="1.5" fill="#fff"/>
<ellipse cx="0.0" cy="0.0" rx="9.3" ry="15.0" stroke="#777" stroke-width="0.9" fill="none"/>
<ellipse cx="0.0" cy="0.0" rx="7.8" ry="12.8" stroke="#333" stroke-width="2.6" fill="none"/>
<ellipse cx="0.0" cy="0.0" rx="6.0" ry="10.2" stroke="#666" stroke-width="0.9" fill="#fff"/>
<path d="M -1,-10 L 1,10" stroke="#999" stroke-width="0.7"/>
</g>
<path d="M 32.5,608.7 L 66.2,587.5 C 157.6,636.6 248.9,694.7 340.3,748.3" stroke="#808080" stroke-width="1.1" fill="none" stroke-linejoin="round" stroke-linecap="round" />
<line x1="281.7" y1="712.5" x2="328.9" y2="688.0" stroke="#7a7a7a" stroke-width="1.0" />
<path d="M 112.7,747.6 Q 140,712 172,711 Q 185,710.5 195,716 L 249.3,748.3" stroke="#7a7a7a" stroke-width="1.0" fill="none" stroke-linejoin="round" stroke-linecap="round" />
<path d="M 0,646.5 Q 18,640 30,648 Q 36,653 40.5,661" stroke="#8a8a8a" stroke-width="1.2" fill="none" stroke-linejoin="round" stroke-linecap="round" />
<path d="M 0,649 Q 17,643 29,650 Q 35,655 39.5,662" stroke="#666" stroke-width="1.6" fill="none" stroke-linejoin="round" stroke-linecap="round" />
<path d="M 0,651.5 Q 16,646 27,652.5 Q 33,657 38,662" stroke="#9a9a9a" stroke-width="1.0" fill="none" stroke-linejoin="round" stroke-linecap="round" />
<circle cx="40" cy="662" r="2" fill="#666"/>
<path d="M 41,661.5 Q 58,667 68,675 Q 80,686 84,702" stroke="#999" stroke-width="1.0" fill="none" stroke-linejoin="round" stroke-linecap="round" />
<path d="M 0,711 Q 18,682 45,673 Q 62,668 72,676" stroke="#8a8a8a" stroke-width="1.1" fill="none" stroke-linejoin="round" stroke-linecap="round" />
<path d="M 6,748 Q 11,712 33,693 Q 50,681 66,688" stroke="#888" stroke-width="1.2" fill="none" stroke-linejoin="round" stroke-linecap="round" />
<path d="M 10,748 Q 15,715 36,697 Q 52,686 68,692" stroke="#b8b8b8" stroke-width="2.2" fill="none" stroke-linejoin="round" stroke-linecap="round" />
<path d="M 13,748 Q 18,718 38,700 Q 54,690 70,695" stroke="#888" stroke-width="0.9" fill="none" stroke-linejoin="round" stroke-linecap="round" />
<path d="M 12.41957925547349,748.2495401175568 Q 15.010117398872893,737.8203522484603 17.8,732.4 Q 20.55756310805076,726.9076302918644 24.0,720.7 Q 27.433924093471315,714.5069022833318 32.4,709.5 Q 37.42008598215208,704.508792525534 43.0,701.3 Q 48.57584716066478,698.0048241249051 53.4,696.0 Q 58.204754140208316,693.9131554133855 62.6,693.2 Q 66.96268322654026,692.4683589742116 71.3,693.9 Q 75.72434629750266,695.2733527270926 79.3,698.3 Q 82.9692797183756,701.3270126365334 84.2,705.6 Q 85.45436254014287,709.8920978716895 86.2,714.8 Q 86.84653816740895,719.6358038627077 86.3,725.6 Q 85.82842559775705,731.5268032205087 84.7,737.3 Q 83.59911185116664,743.0533037283723 83.1,745.7 L 82.56681667121137,748.3241689664575" stroke="#666" stroke-width="1.0" fill="none" stroke-linejoin="round" stroke-linecap="round" />
<path d="M 15.58042074452651,747.7504598824432 Q 18.18988260112711,738.1796477515397 20.8,733.2 Q 23.44243689194924,728.2923697081357 26.5,722.6 Q 29.566075906528685,716.8930977166683 34.1,712.2 Q 38.57991401784792,707.491207474466 43.7,704.3 Q 48.82415283933523,701.195175875095 53.3,699.1 Q 57.795245859791684,697.0868445866145 61.9,696.3 Q 66.03731677345974,695.5316410257884 70.2,696.8 Q 74.27565370249734,698.1266472729075 77.7,701.0 Q 81.0307202816244,703.8729873634667 82.1,708.0 Q 83.14563745985713,712.1079021283105 83.6,716.7 Q 84.15346183259105,721.3641961372923 83.5,726.9 Q 82.77157440224295,732.4731967794913 81.6,737.7 Q 80.40088814883336,742.9466962716277 79.9,745.3 L 79.43318332878863,747.6758310335425" stroke="#777" stroke-width="1.0" fill="none" stroke-linejoin="round" stroke-linecap="round" />
<rect x="14.9" y="736.3" width="3.4" height="3.4" fill="#222"/>
<rect x="20.3" y="725.9" width="3.4" height="3.4" fill="#222"/>
<rect x="26.8" y="714.0" width="3.4" height="3.4" fill="#222"/>
<rect x="36.3" y="704.3" width="3.4" height="3.4" fill="#222"/>
<rect x="47.0" y="697.9" width="3.4" height="3.4" fill="#222"/>
<rect x="56.3" y="693.8" width="3.4" height="3.4" fill="#222"/>
<rect x="64.8" y="692.3" width="3.4" height="3.4" fill="#222"/>
<rect x="73.3" y="695.0" width="3.4" height="3.4" fill="#222"/>
<rect x="80.3" y="700.9" width="3.4" height="3.4" fill="#222"/>
<rect x="82.6" y="709.3" width="3.4" height="3.4" fill="#222"/>
<rect x="83.8" y="718.8" width="3.4" height="3.4" fill="#222"/>
<rect x="82.6" y="730.3" width="3.4" height="3.4" fill="#222"/>
<rect x="80.3" y="741.3" width="3.4" height="3.4" fill="#222"/>
<path d="M 20,748 Q 23.75,739.5 26.4,732.8 Q 29,726 32.5,720.5 Q 36,715 41.0,711.0 Q 46,707 51.5,704.5 Q 57,702 62.0,702.0 Q 67,702 70.5,705.0 Q 74,708 76.2,715.0 Q 78.4,722 78.2,730.0 Q 78,738 77.5,743.0 L 77,748" stroke="#666" stroke-width="1.3" fill="none" stroke-linejoin="round" stroke-linecap="round" />
<circle cx="23.8" cy="739.5" r="1.5" fill="#2a2a2a"/>
<circle cx="29.0" cy="726.0" r="1.5" fill="#2a2a2a"/>
<circle cx="36.0" cy="715.0" r="1.5" fill="#2a2a2a"/>
<circle cx="46.0" cy="707.0" r="1.5" fill="#2a2a2a"/>
<circle cx="57.0" cy="702.0" r="1.5" fill="#2a2a2a"/>
<circle cx="67.0" cy="702.0" r="1.5" fill="#2a2a2a"/>
<circle cx="74.0" cy="708.0" r="1.5" fill="#2a2a2a"/>
<circle cx="78.4" cy="722.0" r="1.5" fill="#2a2a2a"/>
<circle cx="78.0" cy="738.0" r="1.5" fill="#2a2a2a"/>
<path d="M 60,700 Q 72,712 72,748" stroke="#888" stroke-width="1.2" fill="none" stroke-linejoin="round" stroke-linecap="round" />
<line x1="48.0" y1="712.0" x2="66.0" y2="705.0" stroke="#666" stroke-width="5.5" />
<line x1="48.0" y1="712.0" x2="66.0" y2="705.0" stroke="#f2f2f2" stroke-width="3.5" />
<line x1="54.0" y1="723.0" x2="72.0" y2="718.0" stroke="#666" stroke-width="5.5" />
<line x1="54.0" y1="723.0" x2="72.0" y2="718.0" stroke="#f2f2f2" stroke-width="3.5" />
<line x1="56.0" y1="733.0" x2="74.0" y2="734.0" stroke="#666" stroke-width="5.5" />
<line x1="56.0" y1="733.0" x2="74.0" y2="734.0" stroke="#f2f2f2" stroke-width="3.5" />
<line x1="54.0" y1="743.0" x2="72.0" y2="747.0" stroke="#666" stroke-width="5.5" />
<line x1="54.0" y1="743.0" x2="72.0" y2="747.0" stroke="#f2f2f2" stroke-width="3.5" />
<line x1="42.0" y1="718.0" x2="52.0" y2="706.0" stroke="#888" stroke-width="1.0" />
<line x1="50.0" y1="736.0" x2="66.0" y2="726.0" stroke="#888" stroke-width="1.0" />
<circle cx="35" cy="743" r="19" fill="none" stroke="#888" stroke-width="1.3"/>
<circle cx="35" cy="743" r="14" fill="none" stroke="#666" stroke-width="1.6"/>
<circle cx="35" cy="743" r="9" fill="none" stroke="#999" stroke-width="1.2"/>
<circle cx="35" cy="743" r="5" fill="#d0d0d0"/>
<rect x="0" y="748.6" width="800" height="52" fill="#fff"/>
<rect x="743" y="0" width="6" height="1" fill="#555"/>
<path d="M 0,148.6 L 2,148.8 L 4,150 L 4,151 L 0,151 Z" fill="#666"/>
<text x="42.5" y="305.5" font-size="14.66" textLength="40.0" lengthAdjust="spacingAndGlyphs" fill="#474747" stroke="#474747" stroke-width="0.5" font-weight="normal">5120A</text>
<text x="25.6" y="321.5" font-size="17.46" textLength="73.8" lengthAdjust="spacingAndGlyphs" fill="#474747" stroke="#474747" stroke-width="0.5" font-weight="normal">12x18x5 BB</text>
<text x="303.5" y="388.8" font-size="20.25" textLength="219.0" lengthAdjust="spacingAndGlyphs" fill="#222" stroke="#222" stroke-width="0.3" font-weight="bold">Rear Differential Assembly</text>
<text x="140.6" y="471.0" font-size="16.76" textLength="29.4" lengthAdjust="spacingAndGlyphs" fill="#474747" stroke="#474747" stroke-width="0.5" font-weight="normal">8981</text>
<text x="311.6" y="432.3" font-size="16.34" textLength="31.9" lengthAdjust="spacingAndGlyphs" fill="#474747" stroke="#474747" stroke-width="0.5" font-weight="normal">8982</text>
<text x="371.0" y="456.8" font-size="16.41" textLength="32.0" lengthAdjust="spacingAndGlyphs" fill="#474747" stroke="#474747" stroke-width="0.5" font-weight="normal">8982</text>
<text x="262.8" y="489.0" font-size="15.92" textLength="31.9" lengthAdjust="spacingAndGlyphs" fill="#474747" stroke="#474747" stroke-width="0.5" font-weight="normal">8982</text>
<text x="446.0" y="464.5" font-size="16.06" textLength="31.8" lengthAdjust="spacingAndGlyphs" fill="#474747" stroke="#474747" stroke-width="0.5" font-weight="normal">8982</text>
<text x="590.8" y="434.0" font-size="16.90" textLength="40.2" lengthAdjust="spacingAndGlyphs" fill="#474747" stroke="#474747" stroke-width="0.5" font-weight="normal">5106A</text>
<text x="590.8" y="450.8" font-size="18.37" textLength="75.2" lengthAdjust="spacingAndGlyphs" fill="#474747" stroke="#474747" stroke-width="0.5" font-weight="normal">15x24x5 BB</text>
<text x="525.0" y="493.4" font-size="17.32" textLength="30.6" lengthAdjust="spacingAndGlyphs" fill="#474747" stroke="#474747" stroke-width="0.5" font-weight="normal">8977</text>
<text x="363.8" y="592.8" font-size="18.58" textLength="32.2" lengthAdjust="spacingAndGlyphs" fill="#474747" stroke="#474747" stroke-width="0.5" font-weight="normal">8982</text>
<text x="511.5" y="547.3" font-size="17.60" textLength="31.5" lengthAdjust="spacingAndGlyphs" fill="#474747" stroke="#474747" stroke-width="0.5" font-weight="normal">8982</text>
<text x="565.8" y="582.3" font-size="18.58" textLength="31.5" lengthAdjust="spacingAndGlyphs" fill="#474747" stroke="#474747" stroke-width="0.5" font-weight="normal">8982</text>
<text x="483.5" y="620.8" font-size="18.58" textLength="31.5" lengthAdjust="spacingAndGlyphs" fill="#474747" stroke="#474747" stroke-width="0.5" font-weight="normal">8982</text>
<text x="551.8" y="643.2" font-size="16.62" textLength="29.8" lengthAdjust="spacingAndGlyphs" fill="#474747" stroke="#474747" stroke-width="0.5" font-weight="normal">8981</text>
<text x="568.2" y="673.6" font-size="17.25" textLength="30.2" lengthAdjust="spacingAndGlyphs" fill="#474747" stroke="#474747" stroke-width="0.5" font-weight="normal">8977</text>
<text x="716.2" y="642.5" font-size="16.76" textLength="32.2" lengthAdjust="spacingAndGlyphs" fill="#474747" stroke="#474747" stroke-width="0.5" font-weight="normal">2553</text>
<text x="703.0" y="658.5" font-size="17.46" textLength="59.0" lengthAdjust="spacingAndGlyphs" fill="#474747" stroke="#474747" stroke-width="0.5" font-weight="normal">3x15 CCS</text>
<text x="632.9" y="695.6" font-size="17.60" textLength="31.6" lengthAdjust="spacingAndGlyphs" fill="#474747" stroke="#474747" stroke-width="0.5" font-weight="normal">2553</text>
<text x="619.0" y="712.0" font-size="17.11" textLength="59.0" lengthAdjust="spacingAndGlyphs" fill="#474747" stroke="#474747" stroke-width="0.5" font-weight="normal">3x15 CCS</text>
<text x="711.0" y="721.0" font-size="18.16" textLength="40.0" lengthAdjust="spacingAndGlyphs" fill="#474747" stroke="#474747" stroke-width="0.5" font-weight="normal">5120A</text>
<text x="694.8" y="738.0" font-size="16.76" textLength="74.2" lengthAdjust="spacingAndGlyphs" fill="#474747" stroke="#474747" stroke-width="0.5" font-weight="normal">12x21x5 BB</text>
<text x="55.0" y="664.4" font-size="18.37" textLength="30.0" lengthAdjust="spacingAndGlyphs" fill="#474747" stroke="#474747" stroke-width="0.5" font-weight="normal">8971</text>
<text x="333.8" y="688.5" font-size="17.81" textLength="31.5" lengthAdjust="spacingAndGlyphs" fill="#474747" stroke="#474747" stroke-width="0.5" font-weight="normal">8972</text>
</svg></body></html>
